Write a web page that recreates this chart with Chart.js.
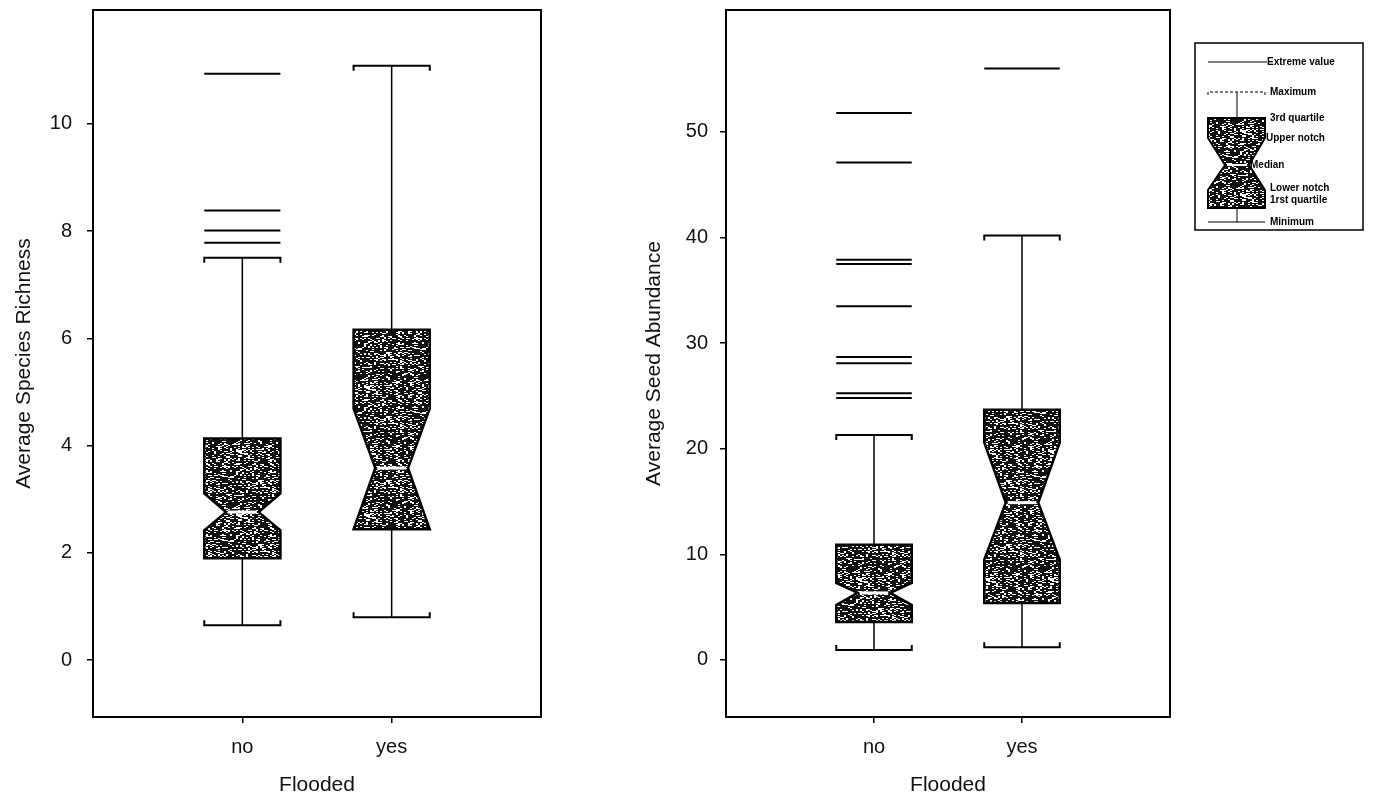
<!DOCTYPE html>
<html>
<head>
<meta charset="utf-8">
<script src="https://cdn.jsdelivr.net/npm/chart.js@4.4.0/dist/chart.umd.min.js"></script>
<style>
html, body { margin: 0; padding: 0; background: #fff; }
body { width: 1375px; height: 800px; position: relative; overflow: hidden; }
canvas { position: absolute; top: 0; }
#richness { left: 0; }
#seeds { left: 620px; }
</style>
</head>
<body>
<canvas id="richness" width="560" height="800"></canvas>
<canvas id="seeds" width="755" height="800"></canvas>
<script>
const categories = ['no', 'yes'];

// Average Species Richness
const richMin = [0.65, 0.80];
const richQ1 = [1.90, 2.44];
const richLowNotch = [2.42, 2.44];
const richMedian = [2.76, 3.58];
const richHighNotch = [3.11, 4.69];
const richQ3 = [4.13, 6.16];
const richMax = [7.50, 11.08];
const richOutliers = [[7.78, 8.01, 8.38, 10.93], []];
const richTicks = [0, 2, 4, 6, 8, 10];

// Average Seed Abundance
const seedMin = [0.95, 1.2];
const seedQ1 = [3.6, 5.4];
const seedLowNotch = [5.2, 9.5];
const seedMedian = [6.35, 14.9];
const seedHighNotch = [7.3, 20.6];
const seedQ3 = [10.9, 23.7];
const seedMax = [21.3, 40.2];
const seedOutliers = [[24.8, 25.25, 28.1, 28.7, 33.5, 37.5, 37.9, 47.1, 51.8], [56.0]];
const seedTicks = [0, 10, 20, 30, 40, 50];

const legendLabels = ['Extreme value', 'Maximum', '3rd quartile', 'Upper notch',
                      'Median', 'Lower notch', '1rst quartile', 'Minimum'];

Chart.defaults.font.family = "'Liberation Sans', Arial, sans-serif";
Chart.defaults.color = '#111';

// stippled fill like the scanned original (deterministic hash, styling only)
function speckle() {
    let c = document.createElement('canvas');
    c.width = c.height = 64;
    let g = c.getContext('2d');
    g.fillStyle = '#fff';
    g.fillRect(0, 0, 64, 64);
    g.fillStyle = '#111';
    for (let y = 0; y < 64; y++) {
        for (let x = 0; x < 64; x++) {
            let h = (Math.imul(x >> 1, 374761393) + Math.imul(y, 668265263)) | 0;
            h = Math.imul(h ^ (h >>> 13), 1274126177);
            h ^= h >>> 16;
            if ((h >>> 0) % 100 < 72) g.fillRect(x, y, 1, 1);
        }
    }
    return g.createPattern(c, 'repeat');
}
const stipple = speckle();

const notchBox = {
    id: 'notchBox',
    afterDatasetsDraw(chart, args, o) {
        const { ctx, chartArea: a, scales: { x, y } } = chart;
        const half = x.getPixelForValue(o.halfWidth) - x.getPixelForValue(0);
        const nh = x.getPixelForValue(o.notchHalf) - x.getPixelForValue(0);
        const py = v => y.getPixelForValue(v);
        ctx.save();
        ctx.strokeStyle = '#000';
        o.min.forEach((_, i) => {
            const cx = x.getPixelForValue(i + 1);
            const L = cx - half, R = cx + half;
            // whiskers
            ctx.lineWidth = 1.5;
            ctx.beginPath();
            ctx.moveTo(cx, py(o.max[i])); ctx.lineTo(cx, py(o.q3[i]));
            ctx.moveTo(cx, py(o.q1[i])); ctx.lineTo(cx, py(o.min[i]));
            ctx.stroke();
            // caps
            ctx.lineWidth = 2;
            [[o.max[i], 5], [o.min[i], -5]].forEach(([v, d]) => {
                let yy = py(v);
                ctx.beginPath();
                ctx.moveTo(L, yy + d); ctx.lineTo(L, yy); ctx.lineTo(R, yy); ctx.lineTo(R, yy + d);
                ctx.stroke();
            });
            // notched box
            ctx.beginPath();
            ctx.moveTo(L, py(o.q3[i]));
            ctx.lineTo(R, py(o.q3[i]));
            ctx.lineTo(R, py(o.hiNotch[i]));
            ctx.lineTo(cx + nh, py(o.median[i]));
            ctx.lineTo(R, py(o.loNotch[i]));
            ctx.lineTo(R, py(o.q1[i]));
            ctx.lineTo(L, py(o.q1[i]));
            ctx.lineTo(L, py(o.loNotch[i]));
            ctx.lineTo(cx - nh, py(o.median[i]));
            ctx.lineTo(L, py(o.hiNotch[i]));
            ctx.closePath();
            ctx.fillStyle = stipple;
            ctx.fill();
            ctx.lineWidth = 2.5;
            ctx.lineJoin = 'miter';
            ctx.stroke();
            // median
            ctx.strokeStyle = '#fff';
            ctx.lineWidth = 3;
            ctx.beginPath();
            ctx.moveTo(cx - nh + 2, py(o.median[i]));
            ctx.lineTo(cx + nh - 2, py(o.median[i]));
            ctx.stroke();
            ctx.strokeStyle = '#000';
        });
        // frame
        ctx.lineWidth = 2;
        ctx.strokeRect(a.left, a.top, a.right - a.left, a.bottom - a.top);
        ctx.restore();
    },
    afterDraw(chart, args, o) {
        if (!o.legend) return;
        const { ctx, chartArea: a } = chart;
        const ox = a.right + 25, oy = 43;      // legend box origin
        const gl = ox + 13, gr = ox + 70, gc = ox + 42;
        const lv = { ext: 19, max: 49, q3: 75, hn: 95, med: 122, ln: 147, q1: 165, min: 179 };
        ctx.save();
        ctx.strokeStyle = '#000';
        ctx.lineWidth = 1.5;
        ctx.strokeRect(ox, oy, 168, 187);
        // glyph
        ctx.lineWidth = 1;
        ctx.beginPath();
        ctx.moveTo(gl, oy + lv.ext); ctx.lineTo(gr + 2, oy + lv.ext);
        ctx.moveTo(gc, oy + lv.max); ctx.lineTo(gc, oy + lv.q3);
        ctx.moveTo(gc, oy + lv.q1); ctx.lineTo(gc, oy + lv.min);
        ctx.moveTo(gl, oy + lv.min); ctx.lineTo(gr, oy + lv.min);
        ctx.stroke();
        ctx.setLineDash([3, 2]);
        ctx.beginPath();
        ctx.moveTo(gl, oy + lv.max + 3); ctx.lineTo(gl, oy + lv.max); ctx.lineTo(gr, oy + lv.max); ctx.lineTo(gr, oy + lv.max + 3);
        ctx.stroke();
        ctx.setLineDash([]);
        ctx.beginPath();
        ctx.moveTo(gl, oy + lv.q3); ctx.lineTo(gr, oy + lv.q3);
        ctx.lineTo(gr, oy + lv.hn); ctx.lineTo(gc + 12, oy + lv.med);
        ctx.lineTo(gr, oy + lv.ln); ctx.lineTo(gr, oy + lv.q1);
        ctx.lineTo(gl, oy + lv.q1); ctx.lineTo(gl, oy + lv.ln);
        ctx.lineTo(gc - 12, oy + lv.med); ctx.lineTo(gl, oy + lv.hn);
        ctx.closePath();
        ctx.fillStyle = stipple;
        ctx.fill();
        ctx.lineWidth = 2;
        ctx.stroke();
        ctx.strokeStyle = '#fff';
        ctx.beginPath();
        ctx.moveTo(gc - 10, oy + lv.med); ctx.lineTo(gc + 10, oy + lv.med);
        ctx.stroke();
        // labels
        ctx.fillStyle = '#000';
        ctx.font = "bold 10px 'Liberation Sans', Arial, sans-serif";
        ctx.textBaseline = 'middle';
        const rows = [
            [gr + 2, lv.ext], [gr + 5, lv.max], [gr + 5, lv.q3], [gr + 1, lv.hn],
            [gc + 13, lv.med], [gr + 5, lv.ln - 2], [gr + 5, lv.ln + 10], [gr + 5, lv.min]
        ];
        legendLabels.forEach((t, i) => ctx.fillText(t, rows[i][0], oy + rows[i][1]));
        ctx.restore();
    }
};

function buildChart(id, o) {
    const outlierPoints = [];
    o.outliers.forEach((arr, i) => arr.forEach(v => outlierPoints.push({ x: i + 1, y: v })));
    return new Chart(document.getElementById(id), {
        type: 'scatter',
        data: {
            datasets: [{
                label: 'extreme values',
                data: outlierPoints,
                pointStyle: 'line',
                pointRadius: ctx => ctx.chart.scales.x.getPixelForValue(0.255) - ctx.chart.scales.x.getPixelForValue(0),
                pointHoverRadius: 0,
                borderColor: '#000',
                borderWidth: 2,
            }]
        },
        plugins: [notchBox],
        options: {
            responsive: false,
            animation: false,
            events: [],
            layout: { padding: { left: 0, right: o.padRight, top: 10, bottom: 0 } },
            plugins: {
                legend: { display: false },
                tooltip: { enabled: false },
                notchBox: {
                    min: o.min, q1: o.q1, loNotch: o.loNotch, median: o.median,
                    hiNotch: o.hiNotch, q3: o.q3, max: o.max,
                    halfWidth: 0.255, notchHalf: 0.11, legend: o.legend
                }
            },
            scales: {
                x: {
                    type: 'linear', min: 0, max: 3,
                    afterFit: s => { s.height = 83; s.paddingLeft = 0; s.paddingRight = 0; },
                    afterBuildTicks: s => { s.ticks = categories.map((c, i) => ({ value: i + 1 })); },
                    ticks: {
                        padding: 12,
                        font: { size: 20 },
                        callback: v => categories[v - 1]
                    },
                    grid: { display: true, drawOnChartArea: false, drawTicks: true, tickLength: 6, color: '#000', lineWidth: 1.5 },
                    border: { display: false },
                    title: { display: true, text: 'Flooded', font: { size: 21 }, padding: { top: 0, bottom: 2 } }
                },
                y: {
                    type: 'linear', min: o.yMin, max: o.yMax,
                    afterFit: s => { s.width = o.axisWidth; s.paddingTop = 0; s.paddingBottom = 0; },
                    afterBuildTicks: s => { s.ticks = o.ticks.map(v => ({ value: v })); },
                    ticks: { padding: o.tickPad, font: { size: 20 } },
                    grid: { display: true, drawOnChartArea: false, drawTicks: true, tickLength: 6, color: '#000', lineWidth: 1.5 },
                    border: { display: false },
                    title: { display: true, text: o.title, font: { size: 21 }, padding: { top: o.titlePad, bottom: 0 } }
                }
            }
        }
    });
}

buildChart('richness', {
    min: richMin, q1: richQ1, loNotch: richLowNotch, median: richMedian,
    hiNotch: richHighNotch, q3: richQ3, max: richMax, outliers: richOutliers,
    ticks: richTicks, yMin: -1.06, yMax: 12.12, axisWidth: 93, tickPad: 15,
    padRight: 19, title: 'Average Species Richness', titlePad: 12, legend: false
});

buildChart('seeds', {
    min: seedMin, q1: seedQ1, loNotch: seedLowNotch, median: seedMedian,
    hiNotch: seedHighNotch, q3: seedQ3, max: seedMax, outliers: seedOutliers,
    ticks: seedTicks, yMin: -5.4, yMax: 61.55, axisWidth: 106, tickPad: 12,
    padRight: 205, title: 'Average Seed Abundance', titlePad: 22, legend: true
});
</script>
</body>
</html>
